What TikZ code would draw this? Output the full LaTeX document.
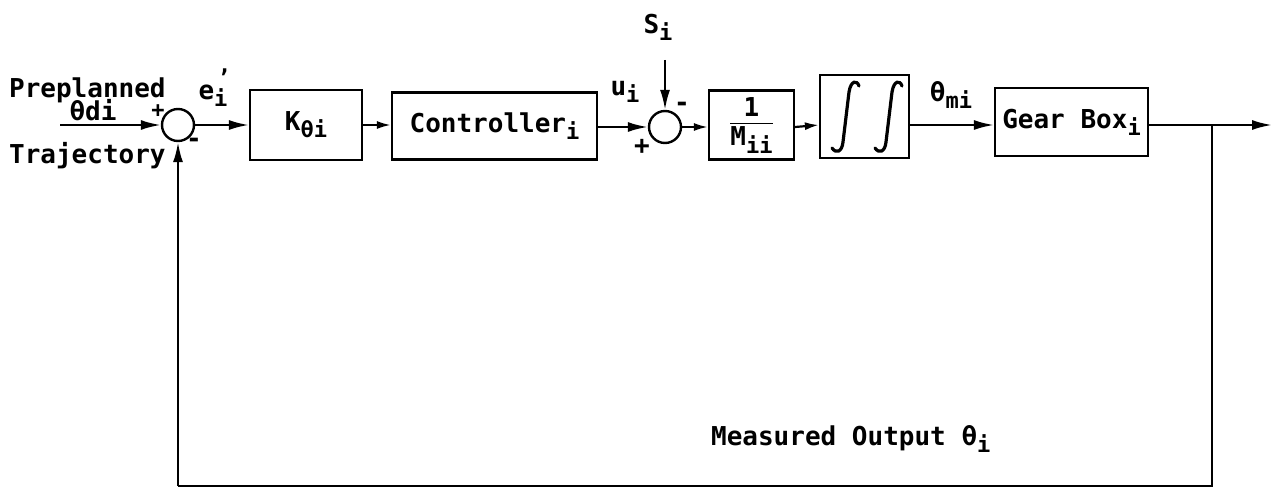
\documentclass[tikz,border=0pt]{standalone}
\usepackage{fontspec}
\setmainfont{DejaVu Sans Mono}
\usetikzlibrary{arrows.meta}
\newcommand\sbi[1]{\raisebox{-0.5ex}{\fontsize{11}{11}\selectfont #1}}
\begin{document}
\begin{tikzpicture}[x=0.5pt,y=-0.5pt,
  font=\fontsize{13}{15}\selectfont\bfseries,
  every path/.style={line width=1.1pt},
  blk/.style={draw, line width=1.1pt, inner sep=0pt, minimum width=#1},
  sumc/.style={draw, circle, line width=1.2pt, minimum size=16pt, inner sep=0pt},
  arr/.style={-{Latex[length=10pt,width=5pt]}},
  sarr/.style={-{Latex[length=7pt,width=4pt]}},
  intg/.style={line width=1.6pt, line cap=round},
  lbl/.style={inner sep=0pt}]
\useasboundingbox (0,0) rectangle (1277,492);
% summing junctions
\node[sumc] (s1) at (178,125) {};
\node[sumc] (s2) at (665,127) {};
% blocks
\node[blk=56pt, minimum height=35pt] (k) at (306,125) {K\sbi{θi}};
\node[blk=102.5pt, minimum height=33.5pt] (c) at (494.5,126) {Controller\sbi{i}};
\node[blk=42.5pt, minimum height=34.5pt] (m) at (751.5,125) {\begin{tabular}{@{}c@{}}1\\[-1pt]\hline\rule{0pt}{11pt}M\sbi{ii}\end{tabular}};
\node[blk=44.5pt, minimum height=41.5pt] (int) at (864.5,116.5) {};
% integral signs
\draw[intg] (832,148) .. controls (836,154) and (842,152) .. (843,142) -- (849,92) .. controls (851,80) and (857,80) .. (859,86);
\draw[intg] (875,148) .. controls (879,154) and (885,152) .. (886,142) -- (892,92) .. controls (894,80) and (900,80) .. (902,86);
\node[blk=76.5pt, minimum height=34pt] (g) at (1071.5,122) {Gear Box\sbi{i}};
% free ends
\coordinate (in) at (60,125);
\coordinate (sin) at (665,60);
\coordinate (out) at (1272,125);
\coordinate (br) at (1212,125);
\coordinate (bl) at (1212,486);
\coordinate (bf) at (178,486);
% labels
\node[lbl, anchor=west] (pre) at (8,90) {Preplanned};
\node[lbl] (thd) at (93,110) {θdi};
\node[lbl, anchor=west] (tra) at (8,156) {Trajectory};
\node[lbl, font=\fontsize{11}{11}\selectfont\bfseries] (p1) at (158,111) {+};
\node[lbl] (n1) at (194,143) {-};
\node[lbl] (e) at (213,96) {e\sbi{i}};
\node[lbl, font=\fontsize{11}{11}\selectfont\bfseries, anchor=base] (pr) at (224,86) {\smash{'}};
\node[lbl] (u) at (625,92) {u\sbi{i}};
\node[lbl] (S) at (658,27) {S\sbi{i}};
\node[lbl] (p2) at (642,147) {+};
\node[lbl] (n2) at (682,107) {-};
\node[lbl] (thm) at (951,95) {θ\sbi{mi}};
\node[lbl, anchor=base west] (meas) at (710,445) {Measured Output θ\sbi{i}};
% connectors
\draw[arr] (in) -- (s1.west);
\draw[arr] (s1.east) -- (k.west);
\draw[sarr] (k.east) -- (k.east -| c.west);
\draw[arr] (c.east |- s2.west) -- (s2.west);
\draw[arr] (sin) -- (s2.north);
\draw[sarr] (s2.east) -- (s2.east -| m.west);
\draw[sarr] (m.east |- s2.east) -- (m.east -| int.west);
\draw[arr] (int.east |- br) -- (br -| g.west);
\draw[arr] (g.east |- br) -- (out);
\draw (br) -- (bl) -- (bf);
\draw[arr] (bf) -- (s1.south);
\end{tikzpicture}
\end{document}
